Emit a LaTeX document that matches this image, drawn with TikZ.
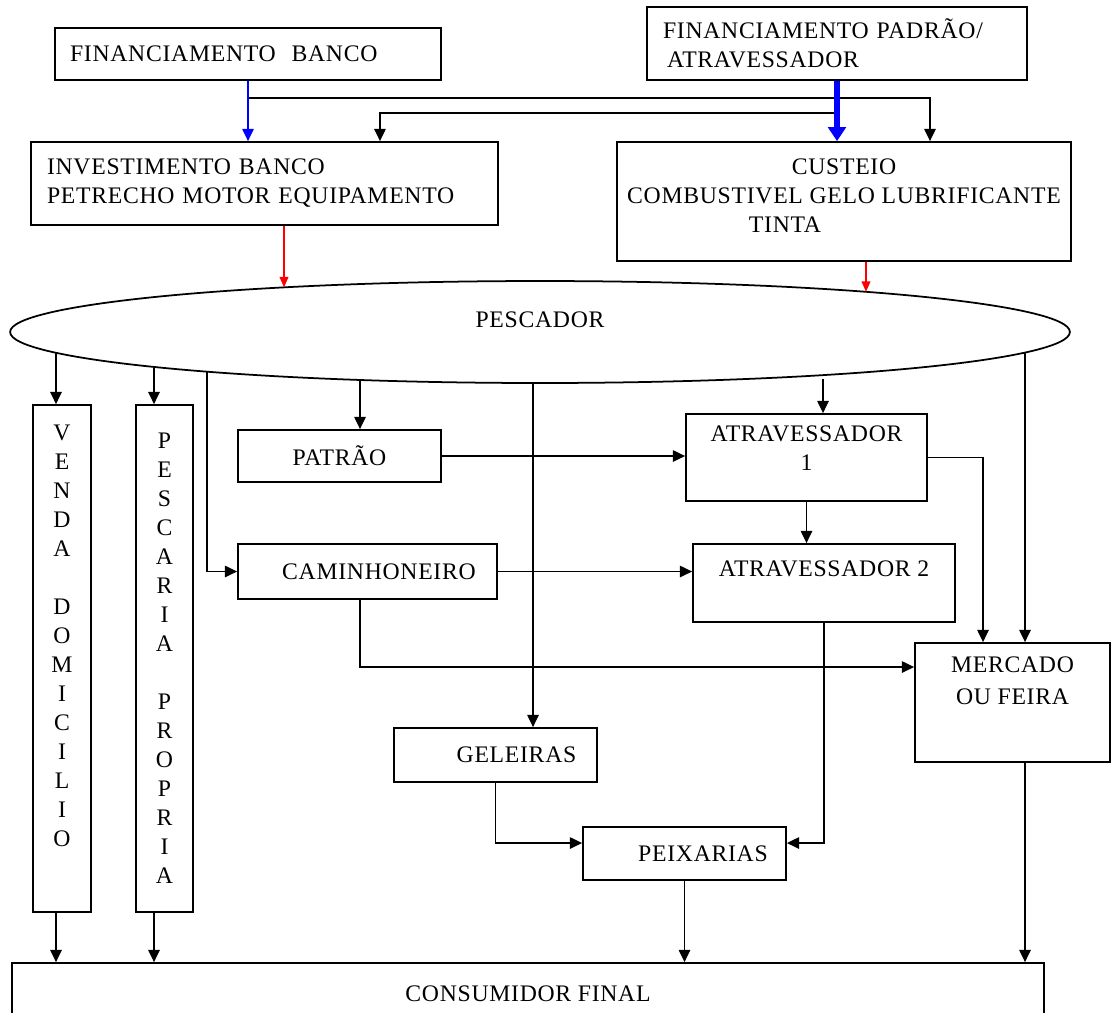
\documentclass[tikz,border=0pt]{standalone}
\usepackage{fontspec}
\setmainfont[LetterSpace=3]{Liberation Serif}
\usepackage{tikz}
\usetikzlibrary{arrows.meta, shapes.geometric}
\definecolor{Tinta}   {HTML}{000000}
\definecolor{Azul}    {HTML}{0000FF}
\definecolor{Vermelho}{HTML}{FF0000}

\begin{document}
\begin{tikzpicture}[x=0.02cm, y=-0.02cm,
    font=\fontsize{13.5}{16.5}\selectfont,
    caixa/.style={draw=Tinta, line width=1pt, rectangle, inner sep=0pt, align=center},
    seta/.style={draw=Tinta, line width=0.95pt, -{Triangle[length=7pt, width=6.5pt]}},
    setaazul/.style={draw=Azul, line width=0.95pt, -{Triangle[length=7pt, width=6.5pt]}},
    setagrossa/.style={draw=Azul, line width=3pt, -{Triangle[length=8pt, width=10pt]}},
    setavermelha/.style={draw=Vermelho, line width=0.95pt, -{Triangle[length=6pt, width=5pt]}}]
  \useasboundingbox (0,0) rectangle (1111,1012);
  % Financiamento e investimento
  \node[caixa, align=left, inner xsep=0.3cm, text width=7.12cm, minimum height=1.04cm]
        (finbanco) at (248,54) {FINANCIAMENTO~~BANCO};
  \node[caixa, align=left, inner xsep=0.32cm, text width=6.96cm, minimum height=1.46cm]
        (finpadrao) at (837,43.5) {FINANCIAMENTO PADRÃO/\\\hspace*{0.08cm}ATRAVESSADOR};
  \node[caixa, align=left, inner xsep=0.32cm, text width=8.7cm, minimum height=1.66cm]
        (invest) at (264.5,183.5) {INVESTIMENTO BANCO\\PETRECHO MOTOR EQUIPAMENTO};
  \node[caixa, minimum width=9.08cm, minimum height=2.38cm]
        (custeio) at (844,201.5) {CUSTEIO\\COMBUSTIVEL GELO LUBRIFICANTE\\TINTA\hspace{2.36cm}\mbox{}\\[-0.35cm]~};
  % Pescador
  \node[draw=Tinta, line width=1pt, ellipse, inner sep=0pt, minimum width=21.2cm,
        minimum height=2.04cm, text depth=0.5cm] (pescador) at (540,332) {PESCADOR};
  % Pontos na borda da elipse
  \coordinate (pInv)  at ([shift={(-256,-44.7)}]pescador.center);
  \coordinate (pCus)  at ([shift={(326,-40.2)}]pescador.center);
  \coordinate (pVen)  at ([shift={(-484,20.8)}]pescador.center);
  \coordinate (pPes)  at ([shift={(-386,34.9)}]pescador.center);
  \coordinate (pCam)  at ([shift={(-333,39.7)}]pescador.center);
  \coordinate (pPat)  at ([shift={(-180,48)}]pescador.center);
  \coordinate (pGel)  at ([shift={(-7,51)}]pescador.center);
  \coordinate (pAt1)  at ([shift={(283,47)}]pescador.center);
  \coordinate (pMer)  at ([shift={(485,20.6)}]pescador.center);
  % Destinos do pescado
  \node[caixa, minimum width=1.16cm, minimum height=10.14cm] (venda) at (62,658.5)
        {V\\E\\N\\D\\A\\[0.58cm]D\\O\\M\\I\\C\\I\\L\\I\\O\\[0.34cm]~};
  \node[caixa, minimum width=1.14cm, minimum height=10.14cm] (pescaria) at (164.5,658.5)
        {P\\E\\S\\C\\A\\R\\I\\A\\[0.58cm]P\\R\\O\\P\\R\\I\\A};
  \node[caixa, minimum width=4.06cm, minimum height=1.04cm] (patrao) at (339.5,456) {PATRÃO};
  \node[caixa, minimum width=5.18cm, minimum height=1.1cm] (caminhoneiro) at (367.5,571.5)
        {\hspace*{0.46cm}CAMINHONEIRO};
  \node[caixa, minimum width=4.82cm, minimum height=1.74cm] (atrav1) at (806.5,457.5)
        {ATRAVESSADOR\\1\\[-0.2cm]~};
  \node[caixa, minimum width=5.24cm, minimum height=1.56cm] (atrav2) at (824,583)
        {ATRAVESSADOR 2\\~};
  \node[caixa, minimum width=3.9cm, minimum height=2.38cm] (mercado) at (1012.5,702.5)
        {MERCADO\\[0.06cm]OU FEIRA\\[0.3cm]~};
  \node[caixa, minimum width=4.06cm, minimum height=1.08cm] (geleiras) at (495.5,755)
        {\hspace*{0.84cm}GELEIRAS};
  \node[caixa, minimum width=4.06cm, minimum height=1.06cm] (peixarias) at (684.5,853.5)
        {\hspace*{0.74cm}PEIXARIAS};
  \node[caixa, minimum width=20.64cm, minimum height=1.24cm] (consumidor) at (528,994)
        {CONSUMIDOR FINAL};
  % Ligacoes do financiamento
  \draw[seta] (finbanco.south) -- ([yshift=-0.34cm]finbanco.south) -| ([xshift=1.72cm]custeio.north);
  \draw[seta] ([yshift=-0.64cm]finpadrao.south) -| ([xshift=2.31cm]invest.north);
  \draw[setaazul] (finbanco.south) -- (finbanco.south |- invest.north);
  \draw[setagrossa] (finpadrao.south) -- (finpadrao.south |- custeio.north);
  \draw[setavermelha] (pInv |- invest.south) -- (pInv);
  \draw[setavermelha] (pCus |- custeio.south) -- (pCus);
  % Saidas do pescador
  \draw[seta] (pVen) -- (pVen |- venda.north);
  \draw[seta] (pPes) -- (pPes |- pescaria.north);
  \draw[seta] (pCam) |- (caminhoneiro.west);
  \draw[seta] (pPat) -- (pPat |- patrao.north);
  \draw[seta] (pGel) -- (pGel |- geleiras.north);
  \draw[seta] (pAt1) -- (pAt1 |- atrav1.north);
  \draw[seta] (pMer) -- (pMer |- mercado.north);
  % Intermediarios
  \draw[seta] (patrao.east) -- (patrao.east -| atrav1.west);
  \draw[seta] (atrav1.south) -- (atrav1.south |- atrav2.north);
  \draw[seta] (caminhoneiro.east) -- (caminhoneiro.east -| atrav2.west);
  \draw[seta] (atrav1.east) -| ([xshift=-0.59cm]mercado.north);
  \draw[seta] ([xshift=-0.15cm]caminhoneiro.south) |- ([yshift=0.71cm]mercado.west);
  \draw[seta] (atrav2.south) |- ([yshift=0.21cm]peixarias.east);
  \draw[seta] (geleiras.south) |- ([yshift=0.21cm]peixarias.west);
  % Ate o consumidor
  \draw[seta] ([xshift=-0.12cm]venda.south) -- ([xshift=-0.12cm]venda.south |- consumidor.north);
  \draw[seta] ([xshift=-0.21cm]pescaria.south) -- ([xshift=-0.21cm]pescaria.south |- consumidor.north);
  \draw[seta] (peixarias.south) -- (peixarias.south |- consumidor.north);
  \draw[seta] ([xshift=0.25cm]mercado.south) -- ([xshift=0.25cm]mercado.south |- consumidor.north);
\end{tikzpicture}
\end{document}
